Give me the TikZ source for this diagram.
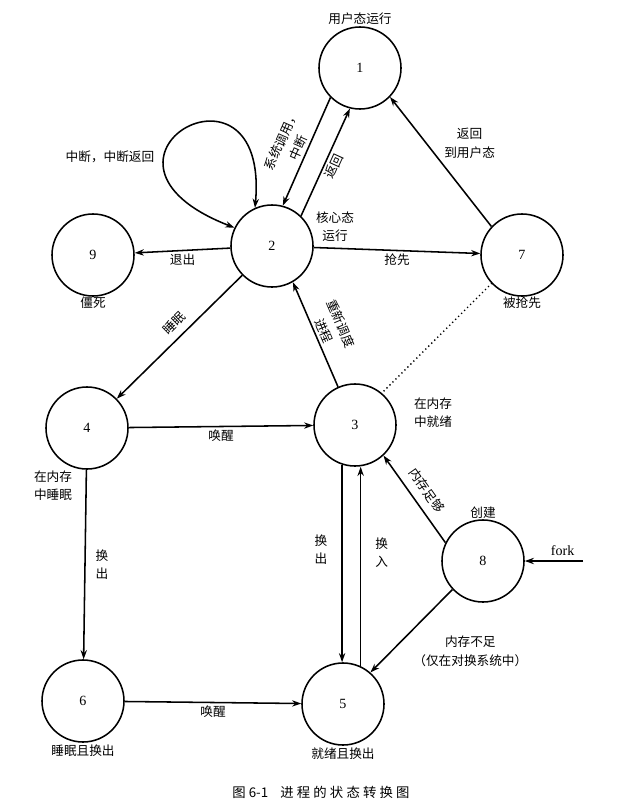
\documentclass[tikz,border=0pt]{standalone}
\usepackage{fontspec}
\setmainfont{Liberation Serif}
\newfontfamily\cjk{Noto Sans CJK SC}
\newfontfamily\cjkcap[LetterSpace=24]{Noto Sans CJK SC}
\usepackage{tikz}
\usetikzlibrary{arrows.meta, positioning}

\begin{document}
\begin{tikzpicture}[
    x=0.025cm, y=-0.025cm,
    state/.style={
        circle,
        draw,
        line width=1.1pt,
        minimum size=2.05cm,
        inner sep=0pt,
        font=\fontsize{10}{12}\selectfont
    },
    note/.style={
        align=center,
        inner sep=2pt,
        font=\cjk\fontsize{9}{13}\selectfont
    },
    captext/.style={
        inner sep=2pt,
        font=\cjk\fontsize{9.5}{11}\selectfont
    },
    arrow/.style={-{Stealth[length=6.5pt, width=4.5pt]}, line width=1.1pt},
    twoway/.style={{Stealth[length=6.5pt, width=4.5pt]}-{Stealth[length=6.5pt, width=4.5pt]}, line width=1.1pt},
    dotline/.style={line width=1.3pt, line cap=round, dash pattern=on 0pt off 3pt}
]
    \useasboundingbox (0,0) rectangle (622,809);

    % Process states
    \node [state] (s1) at (360,68) {1};
    \node [state] (s2) at (272,246) {2};
    \node [state] (s9) at (93,255) {9};
    \node [state] (s7) at (522,255) {7};
    \node [state] (s4) at (87,428) {4};
    \node [state] (s3) at (355,425) {3};
    \node [state] (s8) at (483,561) {8};
    \node [state] (s6) at (83,701) {6};
    \node [state] (s5) at (343,704) {5};
    \coordinate (fork) at (583,561);

    % State names
    \node [note, above=-1pt of s1] (n1) {用户态运行};
    \node [note] (n2) at (335,227) {核心态\\运行};
    \node [note, below=-2pt of s9] (n9) {僵死};
    \node [note, below=-2pt of s7] (n7) {被抢先};
    \node [note] (n4) at (53,486) {在内存\\中睡眠};
    \node [note] (n3) at (433,413) {在内存\\中就绪};
    \node [note, above=-2pt of s8] (n8) {创建};
    \node [note, below=-1pt of s6] (n6) {睡眠且换出};
    \node [note, below=-1pt of s5] (n5) {就绪且换出};
    \node [note] (n2loop) at (110,157) {中断，中断返回};

    % Transitions
    \draw [arrow] (s1.225) -- (s2.75)
        node[midway, sloped, above, note] {系统调用，\\中断};
    \draw [arrow] (s2.46) -- (s1.256)
        node[midway, sloped, below, note] {返回};
    \draw [arrow] (s7.137) -- (s1.316)
        node[midway, above right, note] {返回\\到用户态};
    \draw [twoway] (s2.154) .. controls (60,160) and (270,40) .. (s2.114);
    \draw [arrow] (s2) -- (s7) node[midway, below, note] {抢先};
    \draw [arrow] (s2) -- (s9) node[midway, below, note] {退出};
    \draw [arrow] (s2) -- (s4) node[pos=0.47, sloped, above=3pt, note] {睡眠};
    \draw [arrow] (s3.114) -- (s2.300)
        node[midway, sloped, above, note] {重新调度\\进程};
    \draw [dotline] (s7.223) -- (s3.50);
    \draw [arrow] (s4) -- (s3) node[midway, below, note] {唤醒};
    \draw [arrow] (s4) -- (s6) node[midway, right=5pt, note] {换\\出};
    \draw [arrow] (s6) -- (s5) node[midway, below, note] {唤醒};
    \draw [arrow] (s3.252) -- (s3.252 |- s5.north)
        node[pos=0.43, left=8pt, note] {换\\出};
    \draw [arrow] (s5.65) -- (s5.65 |- s3.south)
        node[pos=0.57, right=8pt, note] {换\\入};
    \draw [arrow] (s8.154) -- (s3.313)
        node[midway, sloped, above=4pt, note] {内存足够};
    \draw [arrow] (s8.223) -- (s5.49)
        node[pos=0.52, below right, note] {内存不足\\（仅在对换系统中）};
    \draw [arrow] (fork) -- (s8)
        node[pos=0.35, above, font=\fontsize{10}{12}\selectfont] {fork};

    % Caption
    \node [captext] (caption) at (321,792) {图 6-1\hspace{0.9em}{\cjkcap 进程的状态转换图}};

\end{tikzpicture}
\end{document}
